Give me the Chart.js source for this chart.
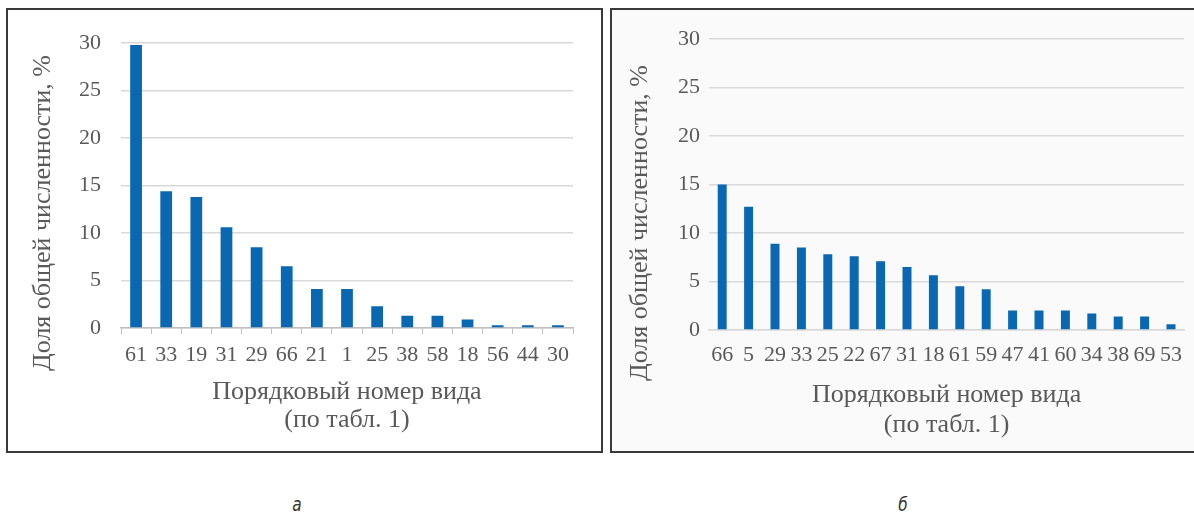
<!DOCTYPE html>
<html lang="ru">
<head>
<meta charset="utf-8">
<title>Доля общей численности видов</title>
<script src="https://cdn.jsdelivr.net/npm/chart.js@4.4.1/dist/chart.umd.min.js"></script>
<style>
  html, body { margin: 0; padding: 0; background: #ffffff; }
  body { width: 1194px; height: 514px; position: relative; overflow: hidden; }
  .panel { position: absolute; box-sizing: border-box; border: 2px solid #3a3a3a; }
  #panelA { left: 6px; top: 8px; width: 597px; height: 445px; background: #ffffff; }
  #panelB { left: 610px; top: 8px; width: 600px; height: 445px; background: #fafafa; }
  canvas { position: absolute; }
  #chartA { left: 8px; top: 10px; }
  #chartB { left: 612px; top: 10px; }
  .caption { position: absolute; top: 492px; font-family: "Liberation Sans Narrow", "DejaVu Sans Condensed", "Liberation Sans", sans-serif;
             font-style: italic; font-size: 20px; color: #333333; transform: translateX(-50%) scaleX(0.85); }
</style>
</head>
<body>
<div class="panel" id="panelA"></div>
<div class="panel" id="panelB"></div>
<canvas id="chartA" width="593" height="441"></canvas>
<canvas id="chartB" width="582" height="441"></canvas>
<div class="caption" style="left:297px">а</div>
<div class="caption" style="left:903px">б</div>
<script>
// Species numbers (per Table 1) and their share of total abundance, %
const speciesA = ['61', '33', '19', '31', '29', '66', '21', '1', '25', '38', '58', '18', '56', '44', '30'];
const sharesA  = [29.8, 14.4, 13.8, 10.6, 8.5, 6.5, 4.1, 4.1, 2.3, 1.3, 1.3, 0.9, 0.3, 0.3, 0.3];

const speciesB = ['66', '5', '29', '33', '25', '22', '67', '31', '18', '61', '59', '47', '41', '60', '34', '38', '69', '53'];
const sharesB  = [15.0, 12.7, 8.9, 8.5, 7.8, 7.6, 7.1, 6.5, 5.65, 4.5, 4.2, 2.0, 2.0, 2.0, 1.7, 1.4, 1.4, 0.6];

const yMin = 0, yMax = 30, yStep = 5;
const yTitle = 'Доля общей численности, %';
const xTitle = ['Порядковый номер вида', '(по табл. 1)'];

const SERIF = '"Liberation Serif", "Times New Roman", serif';
const TEXT = '#595959';
const BAR = '#0a67b1';
const GRID = '#d9d9d9';

// Rotated y-axis title drawn at a fixed spot beside the plot
const yTitlePlugin = {
  id: 'yTitle',
  afterDraw(chart, args, opts) {
    const ctx = chart.ctx;
    ctx.save();
    ctx.translate(opts.x, opts.y);
    ctx.rotate(-Math.PI / 2);
    ctx.font = '26px ' + SERIF;
    ctx.fillStyle = TEXT;
    ctx.textAlign = 'center';
    ctx.textBaseline = 'middle';
    ctx.fillText(yTitle, 0, 0);
    ctx.restore();
  }
};

function makeChart(id, labels, values, cfg) {
  return new Chart(document.getElementById(id), {
    type: 'bar',
    data: {
      labels: labels,
      datasets: [{
        data: values,
        backgroundColor: BAR,
        borderWidth: 0,
        barPercentage: cfg.barPct,
        categoryPercentage: 1
      }]
    },
    options: {
      responsive: false,
      animation: false,
      events: [],
      layout: { padding: { top: cfg.padTop, right: cfg.padRight, left: 0, bottom: 0 } },
      plugins: {
        legend: { display: false },
        tooltip: { enabled: false },
        yTitle: { x: cfg.yTitleX, y: cfg.yTitleY }
      },
      scales: {
        x: {
          offset: true,
          grid: {
            display: true,
            drawOnChartArea: false,
            drawTicks: cfg.xTicks,
            tickLength: 6,
            color: cfg.axisColor,
            offset: true
          },
          border: { display: true, color: cfg.axisColor, width: 1.5 },
          ticks: {
            autoSkip: false,
            maxRotation: 0,
            minRotation: 0,
            padding: cfg.xTickPad,
            color: TEXT,
            font: { family: SERIF, size: 22 }
          },
          title: {
            display: true,
            text: xTitle,
            color: TEXT,
            font: { family: SERIF, size: 26, lineHeight: cfg.titleLH },
            padding: { top: 0, bottom: cfg.titlePadBottom }
          },
          afterFit(scale) { scale.height = cfg.xHeight; }
        },
        y: {
          min: yMin,
          max: yMax,
          ticks: {
            stepSize: yStep,
            padding: cfg.yTickPad,
            color: TEXT,
            font: { family: SERIF, size: 22 }
          },
          grid: { color: GRID, lineWidth: 1.5, drawTicks: false },
          border: { display: false },
          afterFit(scale) { scale.width = cfg.yWidth; }
        }
      }
    },
    plugins: [yTitlePlugin]
  });
}

makeChart('chartA', speciesA, sharesA, {
  barPct: 0.39, padTop: 32, padRight: 28, xHeight: 123, yWidth: 113,
  xTicks: true, axisColor: '#bfbfbf', xTickPad: 8, yTickPad: 20,
  titleLH: 1.08, titlePadBottom: 17, yTitleX: 35, yTitleY: 203
});

makeChart('chartB', speciesB, sharesB, {
  barPct: 0.34, padTop: 29, padRight: 0, xHeight: 121, yWidth: 97,
  xTicks: false, axisColor: GRID, xTickPad: 12, yTickPad: 9,
  titleLH: 1.15, titlePadBottom: 11, yTitleX: 28, yTitleY: 213
});
</script>
</body>
</html>
